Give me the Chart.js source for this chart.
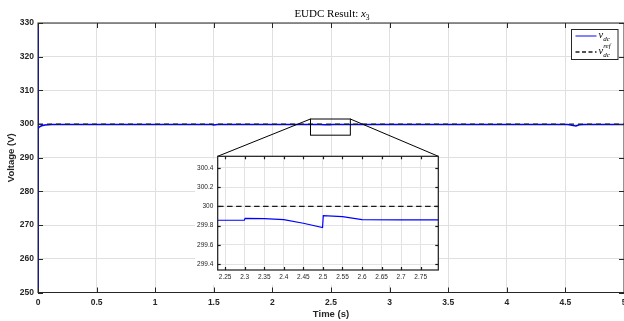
<!DOCTYPE html>
<html>
<head>
<meta charset="utf-8">
<script src="https://cdn.jsdelivr.net/npm/chart.js@4.4.1/dist/chart.umd.min.js"></script>
<style>
html, body { margin: 0; padding: 0; background: #fff; overflow: hidden; }
#main-box { position: absolute; left: 0; top: 0; width: 640px; height: 321px; }
#inset-box { position: absolute; left: 190px; top: 148px; width: 252px; height: 137px; }
</style>
</head>
<body>
<div id="main-box"><canvas id="main-chart"></canvas></div>
<div id="inset-box"><canvas id="inset-chart"></canvas></div>
<script>
"use strict";
Chart.defaults.font.family = '"Liberation Sans", Arial, sans-serif';
Chart.defaults.color = '#262626';

// DC link voltage
const time_s = [0, 0.0004, 0.003, 0.01, 0.03, 0.06, 0.12, 0.2, 1.48, 1.5, 1.53, 2.299, 2.301, 2.35, 2.4, 2.45, 2.499, 2.501, 2.55, 2.6, 2.7, 4.52, 4.59, 4.62, 4.66, 5];
const v_dc = [0, 345, 298.7, 299.1, 299.5, 299.75, 299.85, 299.86, 299.86, 299.72, 299.85, 299.857, 299.875, 299.873, 299.862, 299.825, 299.78, 299.905, 299.893, 299.862, 299.86, 299.86, 299.45, 299.8, 299.86, 299.86];
const ref_time = [0, 5];
const v_ref = [300, 300];

const main_x_ticks = [0, 0.5, 1, 1.5, 2, 2.5, 3, 3.5, 4, 4.5, 5];
const main_y_ticks = [250, 260, 270, 280, 290, 300, 310, 320, 330];
const inset_x_ticks = [2.25, 2.3, 2.35, 2.4, 2.45, 2.5, 2.55, 2.6, 2.65, 2.7, 2.75];
const inset_y_ticks = [299.4, 299.6, 299.8, 300, 300.2, 300.4];

// zoom marker drawn on the main axes (data units)
const zoom_t = [2.325, 2.665];
const zoom_v = [296.7, 301.5];

function to_points(xs, ys) {
    return xs.map((x, i) => ({x: x, y: ys[i]}));
}

function make_datasets(blue_width, dash) {
    return [{
            label: 'v_dc',
            data: to_points(time_s, v_dc),
            borderColor: '#0000ff',
            borderWidth: blue_width,
            order: 2
        }, {
            label: 'v_dc^ref',
            data: to_points(ref_time, v_ref),
            borderColor: '#1a1a1a',
            borderWidth: 1.3,
            borderDash: dash,
            order: 1
        }];
}

function set_ticks(values) {
    return function (scale) {
        scale.ticks = values.map(v => ({value: v}));
    };
}

function line(ctx, x1, y1, x2, y2) {
    ctx.beginPath();
    ctx.moveTo(x1, y1);
    ctx.lineTo(x2, y2);
    ctx.stroke();
}

function draw_frame(chart, len, width, color) {
    const ctx = chart.ctx, a = chart.chartArea;
    const x = chart.scales.x, y = chart.scales.y;
    ctx.save();
    ctx.strokeStyle = color;
    ctx.lineWidth = width;
    ctx.strokeRect(a.left, a.top, a.right - a.left, a.bottom - a.top);
    x.ticks.forEach(t => {
        const px = Math.round(x.getPixelForValue(t.value)) + 0.5;
        line(ctx, px, a.bottom, px, a.bottom - len);
        line(ctx, px, a.top, px, a.top + len);
    });
    y.ticks.forEach(t => {
        const py = Math.round(y.getPixelForValue(t.value)) + 0.5;
        line(ctx, a.left, py, a.left + len, py);
        line(ctx, a.right, py, a.right - len, py);
    });
    ctx.restore();
}

// text pieces: [text, font, dy]
function draw_rich(ctx, x, y, parts, align) {
    let total = 0;
    parts.forEach(p => { ctx.font = p[1]; total += ctx.measureText(p[0]).width; });
    let cx = align === 'center' ? x - total / 2 : x;
    ctx.textAlign = 'left';
    ctx.textBaseline = 'alphabetic';
    parts.forEach(p => {
        ctx.font = p[1];
        ctx.fillText(p[0], cx, y + p[2]);
        cx += ctx.measureText(p[0]).width;
    });
}

const serif = '"Liberation Serif", "DejaVu Serif", serif';

const inset_bg = {
    id: 'inset_bg',
    beforeDraw(chart) {
        const ctx = chart.ctx, a = chart.chartArea;
        ctx.save();
        ctx.fillStyle = '#ffffff';
        ctx.fillRect(a.left, a.top, a.right - a.left, chart.height - a.top);
        ctx.fillRect(5, 11, a.left - 5, chart.height - 11);
        ctx.restore();
    },
    afterDraw(chart) {
        draw_frame(chart, 3, 1.2, '#1a1a1a');
    }
};

const inset_chart = new Chart(document.getElementById('inset-chart'), {
    type: 'line',
    data: {datasets: make_datasets(1.2, [5.5, 3.5])},
    options: {
        animation: false,
        responsive: true,
        maintainAspectRatio: false,
        devicePixelRatio: 1,
        elements: {point: {radius: 0}, line: {tension: 0}},
        layout: {padding: {top: 5.5, right: 3.7, left: 0, bottom: 0}},
        plugins: {legend: {display: false}, tooltip: {enabled: false}},
        scales: {
            x: {
                type: 'linear',
                min: 2.231,
                max: 2.795,
                afterBuildTicks: set_ticks(inset_x_ticks),
                afterFit: (s) => { s.height = 15; },
                border: {display: false},
                grid: {color: '#e3e3e3', drawTicks: false},
                ticks: {font: {size: 6.5}, padding: 3.4, maxRotation: 0, autoSkip: false, callback: v => String(v)}
            },
            y: {
                type: 'linear',
                min: 299.34,
                max: 300.52,
                afterBuildTicks: set_ticks(inset_y_ticks),
                afterFit: (s) => { s.width = 27.7; },
                border: {display: false},
                grid: {color: '#e3e3e3', drawTicks: false},
                ticks: {font: {size: 6.5}, padding: 4.4, autoSkip: false, callback: v => String(v)}
            }
        }
    },
    plugins: [inset_bg]
});

const main_deco = {
    id: 'main_deco',
    afterDraw(chart) {
        const ctx = chart.ctx;
        const x = chart.scales.x, y = chart.scales.y;
        draw_frame(chart, 5, 1, '#262626');

        // zoom marker and connectors to the inset axes
        const box = document.getElementById('inset-box');
        const ia = inset_chart.chartArea;
        const x1 = x.getPixelForValue(zoom_t[0]), x2 = x.getPixelForValue(zoom_t[1]);
        const y1 = y.getPixelForValue(zoom_v[1]), y2 = y.getPixelForValue(zoom_v[0]);
        ctx.save();
        ctx.strokeStyle = '#000000';
        ctx.lineWidth = 1;
        ctx.strokeRect(x1, y1, x2 - x1, y2 - y1);
        line(ctx, x1, y1, box.offsetLeft + ia.left, box.offsetTop + ia.top);
        line(ctx, x2, y1, box.offsetLeft + ia.right, box.offsetTop + ia.top);

        // title
        ctx.fillStyle = '#000000';
        draw_rich(ctx, 332, 17, [
            ['EUDC Result: ', '11px ' + serif, 0],
            ['x', 'italic 11px ' + serif, 0],
            ['3', '7.5px ' + serif, 2.5]
        ], 'center');

        // legend
        ctx.fillStyle = '#ffffff';
        ctx.fillRect(571.5, 29.5, 46.5, 30);
        ctx.strokeStyle = '#262626';
        ctx.lineWidth = 1;
        ctx.strokeRect(571.5, 29.5, 46.5, 30);
        ctx.strokeStyle = '#5a5aff';
        ctx.lineWidth = 1.5;
        line(ctx, 575.5, 36, 596.5, 36);
        ctx.strokeStyle = '#1a1a1a';
        ctx.lineWidth = 1.3;
        ctx.setLineDash([4, 2.5]);
        line(ctx, 575.5, 52, 596.5, 52);
        ctx.setLineDash([]);
        ctx.fillStyle = '#000000';
        draw_rich(ctx, 598.5, 38, [
            ['v', 'italic 10.5px ' + serif, 0],
            ['dc', 'italic 7px ' + serif, 2.5]
        ], 'left');
        ctx.font = 'italic 10.5px ' + serif;
        ctx.fillText('v', 598.5, 54);
        const vw = ctx.measureText('v').width;
        ctx.font = 'italic 7px ' + serif;
        ctx.fillText('ref', 598.5 + vw, 47.5);
        ctx.fillText('dc', 598.5 + vw, 57);
        ctx.restore();
    }
};

new Chart(document.getElementById('main-chart'), {
    type: 'line',
    data: {datasets: make_datasets(1.5, [5, 4])},
    options: {
        animation: false,
        responsive: true,
        maintainAspectRatio: false,
        devicePixelRatio: 1,
        elements: {point: {radius: 0}, line: {tension: 0}},
        layout: {padding: {top: 23, right: 16, left: 0, bottom: 0}},
        plugins: {legend: {display: false}, tooltip: {enabled: false}},
        scales: {
            x: {
                type: 'linear',
                min: 0,
                max: 5,
                afterBuildTicks: set_ticks(main_x_ticks),
                afterFit: (s) => { s.height = 28.5; },
                border: {display: false},
                grid: {color: '#e0e0e0', drawTicks: false},
                ticks: {font: {size: 8.5, weight: 'bold'}, padding: 5, maxRotation: 0, autoSkip: false, callback: v => String(v)},
                title: {display: true, text: 'Time (s)', font: {size: 9.5, weight: 'bold'}, padding: {top: 0, bottom: 1.3}}
            },
            y: {
                type: 'linear',
                min: 250,
                max: 330,
                afterBuildTicks: set_ticks(main_y_ticks),
                afterFit: (s) => { s.width = 38; },
                border: {display: false},
                grid: {color: '#e0e0e0', drawTicks: false},
                ticks: {font: {size: 8.5, weight: 'bold'}, padding: 4, autoSkip: false, callback: v => String(v)},
                title: {display: true, text: 'Voltage (V)', font: {size: 9.5, weight: 'bold'}, padding: {top: 5.8, bottom: 0}}
            }
        }
    },
    plugins: [main_deco]
});
</script>
</body>
</html>
